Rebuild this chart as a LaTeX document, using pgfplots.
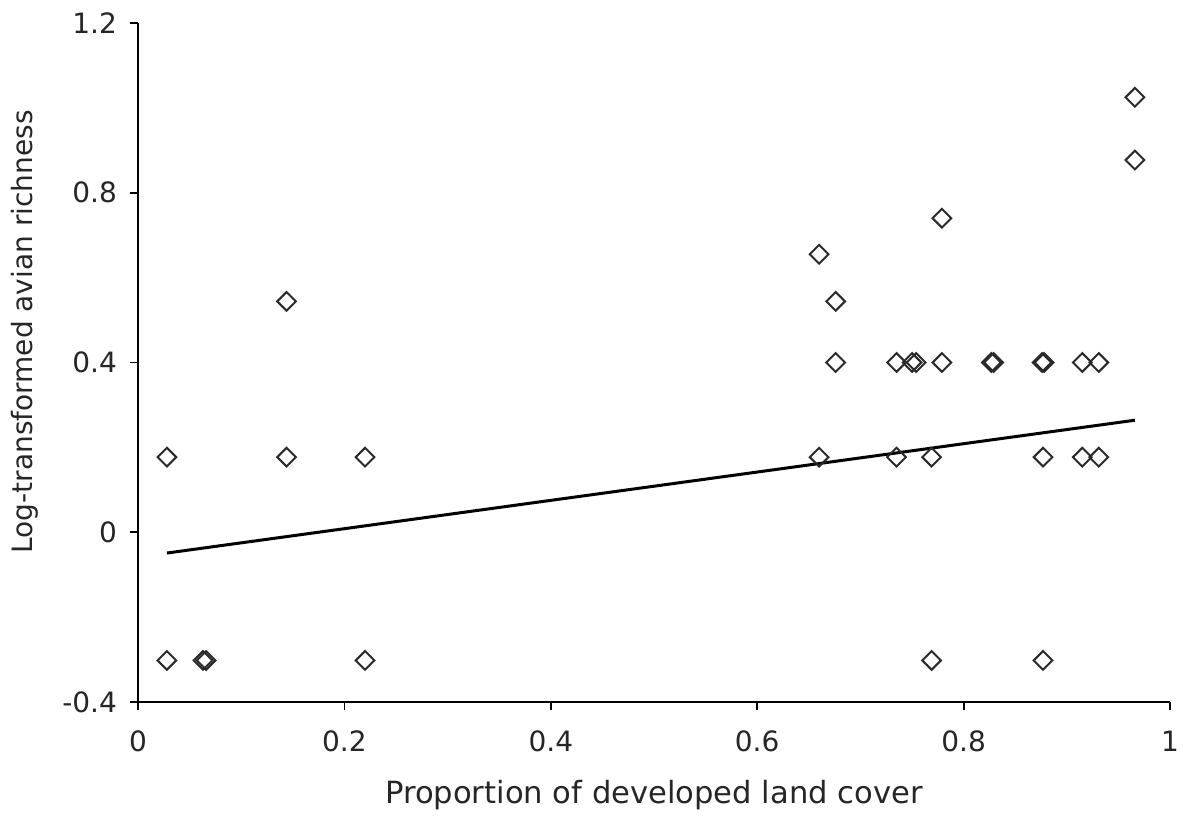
\documentclass[border=0pt]{standalone}
\usepackage{pgfplots}
\pgfplotsset{compat=1.18}
\usepackage{fontspec}
\setmainfont{DejaVu Sans}
\definecolor{mk}{HTML}{2A2A2A}
\begin{document}
\begin{tikzpicture}
\useasboundingbox (-69pt,-58.5pt) rectangle (522.5pt,351pt);
\begin{axis}[
  scale only axis,
  width=516pt, height=339.5pt,
  xmin=0, xmax=1, ymin=-0.4, ymax=1.2,
  axis x line=bottom, axis y line=left,
  axis line style={-, line width=0.9pt, black},
  tick align=outside,
  major tick length=4pt,
  tick style={line width=0.9pt, black},
  xtick={0,0.2,0.4,0.6,0.8,1},
  ytick={-0.4,0,0.4,0.8,1.2},
  /pgf/number format/assume math mode=true,
  /pgf/number format/fixed,
  ticklabel style={font=\fontsize{14}{16}\selectfont, text=black!85},
  yticklabel style={xshift=-3pt},
  xticklabel style={yshift=-7pt},
  xlabel={Proportion of developed land cover},
  ylabel={Log-transformed avian richness},
  xlabel style={font=\fontsize{15.3}{18}\selectfont, text=black!85,
    at={([yshift=-46.5pt]axis description cs:0.5,0)}, anchor=center},
  ylabel style={font=\fontsize{14}{17}\selectfont, text=black!85,
    at={([xshift=-56.5pt]axis description cs:0,0.545)}, anchor=center},
  clip=false,
]
\addplot[only marks, mark=square, mark size=3.3pt,
  mark options={rotate=45, draw=mk, line width=1pt, fill=white}] coordinates {
(0.028,0.177) (0.028,-0.302) (0.063,-0.302) (0.066,-0.302)
(0.144,0.544) (0.144,0.177) (0.220,0.177) (0.220,-0.302)
(0.660,0.655) (0.660,0.177) (0.676,0.544) (0.676,0.400)
(0.735,0.400) (0.735,0.177) (0.750,0.400) (0.754,0.400)
(0.769,0.177) (0.769,-0.302) (0.779,0.740) (0.779,0.400)
(0.827,0.400) (0.829,0.400) (0.876,0.400) (0.878,0.400)
(0.877,0.177) (0.877,-0.302) (0.915,0.400) (0.915,0.177)
(0.931,0.400) (0.931,0.177) (0.966,1.025) (0.966,0.877)
};
\addplot[black, line width=1.5pt] coordinates {(0.028,-0.049) (0.966,0.264)};
\end{axis}
\end{tikzpicture}
\end{document}
